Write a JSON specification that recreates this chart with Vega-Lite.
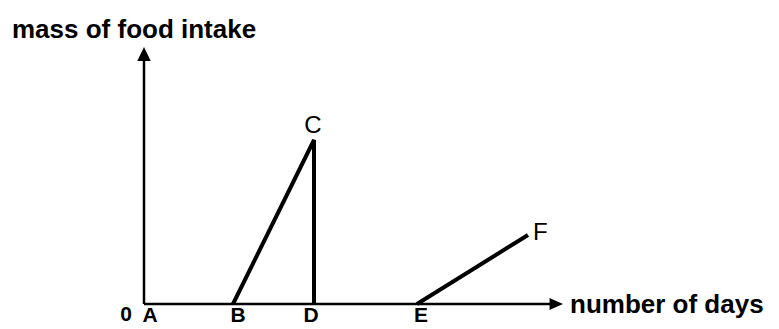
{
  "$schema": "https://vega.github.io/schema/vega-lite/v6.json",
  "width": 779,
  "height": 329,
  "padding": 0,
  "autosize": {"type": "none"},
  "background": "white",
  "config": {"view": {"stroke": null}},
  "datasets": {
    "axes": [
      {"axis": "x", "x": 0, "y": 0, "x2": 20.5, "y2": 0},
      {"axis": "y", "x": 0, "y": 0, "x2": 0, "y2": 12.4}
    ],
    "arrows": [
      {"axis": "y", "x": 0, "y": 12.85},
      {"axis": "x", "x": 20.95, "y": 0}
    ],
    "curve": [
      {"segment": "BCD", "point": "B", "order": 1, "day": 4.45, "mass": 0},
      {"segment": "BCD", "point": "C", "order": 2, "day": 8.5, "mass": 8.2},
      {"segment": "BCD", "point": "D", "order": 3, "day": 8.5, "mass": 0},
      {"segment": "EF", "point": "E", "order": 1, "day": 13.65, "mass": 0},
      {"segment": "EF", "point": "F", "order": 2, "day": 19.2, "mass": 3.45}
    ],
    "axisLetters": [
      {"label": "0", "x": -0.9, "y": -0.85},
      {"label": "A", "x": 0.3, "y": -0.9},
      {"label": "B", "x": 4.7, "y": -0.9},
      {"label": "D", "x": 8.35, "y": -0.9},
      {"label": "E", "x": 13.85, "y": -0.9}
    ],
    "centerLetters": [
      {"label": "C", "x": 8.45, "y": 8.55}
    ],
    "leftLetters": [
      {"label": "F", "x": 19.45, "y": 3.2}
    ],
    "yTitle": [
      {"label": "mass of food intake", "x": -6.6, "y": 13.3}
    ],
    "xTitle": [
      {"label": "number of days", "x": 21.3, "y": -0.05}
    ]
  },
  "layer": [
    {
      "data": {"name": "axes"},
      "mark": {"type": "rule", "color": "black", "strokeWidth": 2.5},
      "encoding": {
        "x": {"field": "x", "type": "quantitative", "scale": {"domain": [-7.2, 31.75], "nice": false, "zero": false}, "axis": null},
        "y": {"field": "y", "type": "quantitative", "scale": {"domain": [-1.25, 15.2], "nice": false, "zero": false}, "axis": null},
        "x2": {"field": "x2"},
        "y2": {"field": "y2"}
      }
    },
    {
      "data": {"name": "arrows"},
      "mark": {"type": "point", "filled": true, "color": "black", "opacity": 1, "size": 180},
      "encoding": {
        "x": {"field": "x", "type": "quantitative"},
        "y": {"field": "y", "type": "quantitative"},
        "shape": {"field": "axis", "type": "nominal", "scale": {"domain": ["x", "y"], "range": ["M0,0L-2,-0.9L-2,0.9Z", "M0,0L-1,2.1L1,2.1Z"]}, "legend": null}
      }
    },
    {
      "data": {"name": "curve"},
      "mark": {"type": "line", "color": "black", "strokeWidth": 4, "strokeJoin": "miter"},
      "encoding": {
        "x": {"field": "day", "type": "quantitative"},
        "y": {"field": "mass", "type": "quantitative"},
        "detail": {"field": "segment"},
        "order": {"field": "order"}
      }
    },
    {
      "data": {"name": "axisLetters"},
      "mark": {"type": "text", "font": "Liberation Sans", "fontWeight": "bold", "fontSize": 21, "align": "center", "baseline": "alphabetic", "color": "black"},
      "encoding": {
        "x": {"field": "x", "type": "quantitative"},
        "y": {"field": "y", "type": "quantitative"},
        "text": {"field": "label"}
      }
    },
    {
      "data": {"name": "centerLetters"},
      "mark": {"type": "text", "font": "Liberation Sans", "fontSize": 24, "align": "center", "baseline": "alphabetic", "color": "black"},
      "encoding": {
        "x": {"field": "x", "type": "quantitative"},
        "y": {"field": "y", "type": "quantitative"},
        "text": {"field": "label"}
      }
    },
    {
      "data": {"name": "leftLetters"},
      "mark": {"type": "text", "font": "Liberation Sans", "fontSize": 24, "align": "left", "baseline": "alphabetic", "color": "black"},
      "encoding": {
        "x": {"field": "x", "type": "quantitative"},
        "y": {"field": "y", "type": "quantitative"},
        "text": {"field": "label"}
      }
    },
    {
      "data": {"name": "yTitle"},
      "mark": {"type": "text", "font": "Liberation Sans", "fontWeight": "bold", "fontSize": 26, "align": "left", "baseline": "alphabetic", "color": "black"},
      "encoding": {
        "x": {"field": "x", "type": "quantitative"},
        "y": {"field": "y", "type": "quantitative"},
        "text": {"field": "label"}
      }
    },
    {
      "data": {"name": "xTitle"},
      "mark": {"type": "text", "font": "Liberation Sans", "fontWeight": "bold", "fontSize": 26, "align": "left", "baseline": "middle", "color": "black"},
      "encoding": {
        "x": {"field": "x", "type": "quantitative"},
        "y": {"field": "y", "type": "quantitative"},
        "text": {"field": "label"}
      }
    }
  ]
}
